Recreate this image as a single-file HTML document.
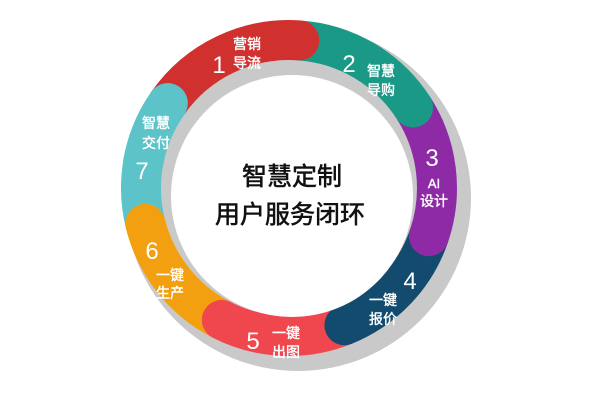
<!DOCTYPE html>
<html><head><meta charset="utf-8"><style>
html,body{margin:0;padding:0;background:#fff;width:600px;height:419px;overflow:hidden}
text{font-family:"Liberation Sans","Noto Sans CJK SC",sans-serif}
</style></head><body>
<svg width="600" height="419" viewBox="0 0 600 419" xmlns="http://www.w3.org/2000/svg">
<circle cx="298" cy="198" r="173" fill="#c9c9c9"/>
<g fill="none" stroke-width="40" stroke-linecap="round">
<path d="M145.4 223.8 A148 148 0 0 1 167.8 103.1" stroke="#5cc3c9"/>
<path d="M221.8 319.9 A148 148 0 0 1 145.4 223.8" stroke="#f2a00f"/>
<path d="M344.4 325.2 A148 148 0 0 1 221.8 319.9" stroke="#f0474f"/>
<path d="M428.9 236.2 A148 148 0 0 1 344.4 325.2" stroke="#134b6e"/>
<path d="M413.1 107.4 A148 148 0 0 1 428.9 236.2" stroke="#8e2aa6"/>
<path d="M299.3 40.4 A148 148 0 0 1 413.1 107.4" stroke="#1a9a86"/>
<path d="M167.8 103.1 A148 148 0 0 1 299.3 40.4" stroke="#d0312f"/>
<path d="M143.2 162.3 A148 148 0 0 1 167.8 103.1" stroke="#5cc3c9"/>
</g>
<circle cx="292" cy="196" r="121" fill="#fff"/>
<g fill="#fff" stroke="#fff" stroke-width="0.4" text-anchor="middle">
<text x="219" y="73" font-size="24" stroke-width="0">1</text>
<text x="247" y="49" font-size="14">营销</text>
<text x="247" y="68" font-size="14">导流</text>
<text x="349" y="72" font-size="24" stroke-width="0">2</text>
<text x="381" y="76" font-size="14">智慧</text>
<text x="381" y="95" font-size="14">导购</text>
<text x="432" y="166" font-size="24" stroke-width="0">3</text>
<text x="434" y="188" font-size="13">AI</text>
<text x="434" y="206" font-size="14">设计</text>
<text x="410" y="289" font-size="24" stroke-width="0">4</text>
<text x="383" y="305" font-size="14">一键</text>
<text x="383" y="324" font-size="14">报价</text>
<text x="253" y="349" font-size="24" stroke-width="0">5</text>
<text x="286" y="338" font-size="14">一键</text>
<text x="286" y="357" font-size="14">出图</text>
<text x="152" y="259" font-size="24" stroke-width="0">6</text>
<text x="170" y="280" font-size="14">一键</text>
<text x="170" y="298" font-size="14">生产</text>
<text x="142" y="179" font-size="24" stroke-width="0">7</text>
<text x="156" y="128" font-size="14">智慧</text>
<text x="156" y="148" font-size="14">交付</text>
</g>
<g fill="#111" stroke="#111" stroke-width="0.6" text-anchor="middle" font-size="25">
<text x="292" y="185">智慧定制</text>
<text x="290" y="223">用户服务闭环</text>
</g>
</svg>
</body></html>
